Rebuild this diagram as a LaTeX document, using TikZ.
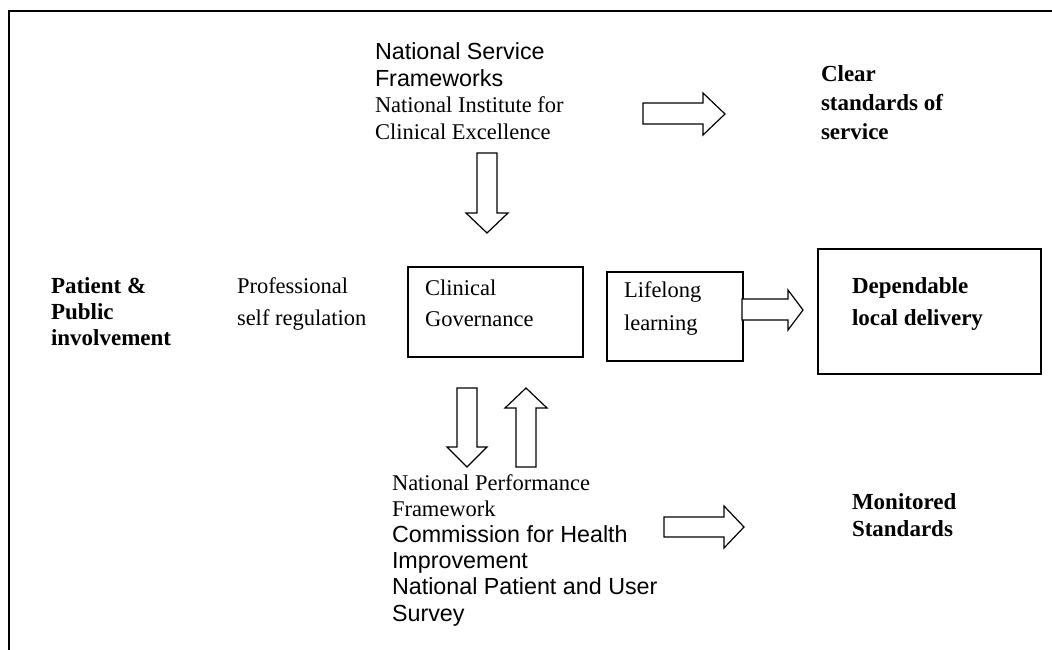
\documentclass[tikz,border=0pt]{standalone}
\usepackage{fontspec}
\setmainfont{Liberation Serif}
\newfontfamily\arialfont{Liberation Sans}
\newcommand\sanstext{\arialfont\fontsize{23.3}{26}\selectfont}
\begin{document}
\begin{tikzpicture}[x=1pt,y=-1pt,
  frame/.style={line width=1.8pt},
  box/.style={draw, line width=1.5pt, inner sep=0pt, anchor=north west},
  blockarrow/.style={draw, line width=1.2pt, line join=miter, fill=white},
  txt/.style={anchor=base west, inner sep=0pt, outer sep=0pt},
  reg/.style={font=\fontsize{22.5}{#1}\selectfont},
  bld/.style={font=\fontsize{23}{#1}\selectfont\bfseries},
]
\useasboundingbox[fill=white] (0,0) rectangle (1052,650);

% outer frame (top and left edges)
\draw[frame] (9,650) -- (9,11) -- (1052,11);

% boxes
\node[box, minimum width=175pt, minimum height=90pt] (cg) at (407,266) {};
\node[box, minimum width=136pt, minimum height=89pt] (ll) at (606,271) {};
\node[box, minimum width=223pt, minimum height=125pt] (dep) at (817,248) {};

% texts
\node[txt, reg=26.5] (nsf) at (375,60) {\begin{tabular}[t]{@{}l@{}}\sanstext National Service\\ \sanstext Frameworks\\ National Institute for\\ Clinical Excellence\end{tabular}};
\node[txt, bld=29] (clear) at (821,82) {\begin{tabular}[t]{@{}l@{}}Clear\\ standards of\\ service\end{tabular}};
\node[txt, bld=26] (ppi) at (51,293) {\begin{tabular}[t]{@{}l@{}}Patient \&\\ Public\\ involvement\end{tabular}};
\node[txt, reg=32] (psr) at (237,293) {\begin{tabular}[t]{@{}l@{}}Professional\\ self regulation\end{tabular}};
\node[txt, reg=31] (cgt) at (425,295) {\begin{tabular}[t]{@{}l@{}}Clinical\\ Governance\end{tabular}};
\node[txt, reg=33] (llt) at (624,297) {\begin{tabular}[t]{@{}l@{}}Lifelong\\ learning\end{tabular}};
\node[txt, bld=32] (dept) at (852,293) {\begin{tabular}[t]{@{}l@{}}Dependable\\ local delivery\end{tabular}};
\node[txt, reg=26.2] (npf) at (392,490) {\begin{tabular}[t]{@{}l@{}}National Performance\\ Framework\\ \sanstext Commission for Health\\ \sanstext Improvement\\ \sanstext National Patient and User\\ \sanstext Survey\end{tabular}};
\node[txt, bld=27] (mon) at (852,509) {\begin{tabular}[t]{@{}l@{}}Monitored\\ Standards\end{tabular}};

% block arrows
\draw[blockarrow] (643,103) -- (703,103) -- (703,93) -- (725,114) -- (703,135) -- (703,124) -- (643,124) -- cycle;
\draw[blockarrow] (477,153) -- (497,153) -- (497,213) -- (508,213) -- (487,233) -- (466,213) -- (477,213) -- cycle;
\draw[blockarrow] (742,299) -- (788,299) -- (788,290) -- (803,310) -- (788,330) -- (788,320) -- (742,320) -- cycle;
\draw[blockarrow] (457,388) -- (477,388) -- (477,447) -- (487,447) -- (467,467) -- (447,447) -- (457,447) -- cycle;
\draw[blockarrow] (516,467) -- (536,467) -- (536,408) -- (547,408) -- (526,388) -- (505,408) -- (516,408) -- cycle;
\draw[blockarrow] (664,517) -- (724,517) -- (724,506) -- (744,527) -- (724,548) -- (724,537) -- (664,537) -- cycle;
\end{tikzpicture}
\end{document}
